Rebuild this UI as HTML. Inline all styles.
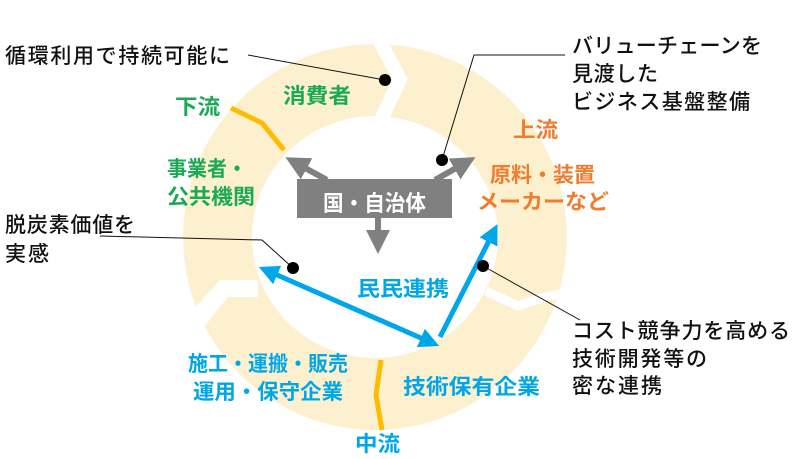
<!DOCTYPE html>
<html><head><meta charset="utf-8"><style>
body{margin:0;background:#fff;width:806px;height:454px;overflow:hidden;font-family:"Liberation Sans","Noto Sans CJK JP",sans-serif;}
svg text{font-family:"Liberation Sans","Noto Sans CJK JP",sans-serif;font-weight:bold;}
svg text.k{font-weight:500;fill:#111;font-size:21px}
</style></head><body>
<svg width="806" height="454" viewBox="0 0 806 454">
<defs>
<marker id="ga" markerWidth="4" markerHeight="4" refX="2" refY="2" orient="auto"><path d="M0,0L4,2L0,4Z" fill="#808080"/></marker>
<marker id="ba" markerWidth="4" markerHeight="4" refX="2" refY="2" orient="auto-start-reverse"><path d="M0,0L4,2L0,4Z" fill="#00a7e8"/></marker>
</defs>
<path fill="#fdf0cf" fill-rule="evenodd" d="M183,237a192,193 0 1,0 384,0a192,193 0 1,0 -384,0Z M252,237a123,121 0 1,0 246,0a123,121 0 1,0 -246,0Z"/>
<polyline points="378,38 400,79 380,122" fill="none" stroke="#fff" stroke-width="14"/>
<polygon points="178,312 193,310 220,280 258,280 258,297 228,297 203,328 178,328" fill="#fff"/>
<polyline points="486,291 518,306 545,297 575,291" fill="none" stroke="#fff" stroke-width="9"/>
<polyline points="231,108 262,123 284,150" fill="none" stroke="#ffbb00" stroke-width="5"/>
<polyline points="381,360 376,395 382,430" fill="none" stroke="#ffbb00" stroke-width="5"/>
<line x1="327" y1="180" x2="296" y2="163" stroke="#808080" stroke-width="6" marker-end="url(#ga)"/>
<line x1="435" y1="180" x2="465" y2="163" stroke="#808080" stroke-width="6" marker-end="url(#ga)"/>
<line x1="378" y1="218" x2="378" y2="242" stroke="#808080" stroke-width="6" marker-end="url(#ga)"/>
<rect x="297" y="179" width="155" height="39" fill="#808080"/>
<text x="323" y="211" textLength="103" lengthAdjust="spacingAndGlyphs" fill="#fff" font-size="22">国・自治体</text>
<line x1="268" y1="271" x2="430" y2="342" stroke="#00a7e8" stroke-width="5" marker-start="url(#ba)" marker-end="url(#ba)"/>
<line x1="440" y1="337" x2="493" y2="233" stroke="#00a7e8" stroke-width="5" marker-end="url(#ba)"/>
<polyline points="248,55 385,80" fill="none" stroke="#111" stroke-width="1"/>
<circle cx="385" cy="80" r="6" fill="#000"/>
<polyline points="565,55 474,55 442,160" fill="none" stroke="#111" stroke-width="1"/>
<circle cx="442" cy="160" r="6" fill="#000"/>
<polyline points="100,236 262,240 293,268" fill="none" stroke="#111" stroke-width="1"/>
<circle cx="293" cy="268" r="6" fill="#000"/>
<polyline points="483,266 580,320" fill="none" stroke="#111" stroke-width="1"/>
<circle cx="483" cy="266" r="6" fill="#000"/>
<g lengthAdjust="spacingAndGlyphs">
<text class="k" x="5" y="63" textLength="225">循環利用で持続可能に</text>
<text class="k" x="572" y="53" textLength="190">バリューチェーンを</text>
<text class="k" x="572" y="81" textLength="86">見渡した</text>
<text class="k" x="572" y="109" textLength="178">ビジネス基盤整備</text>
<text class="k" x="5" y="232" textLength="130">脱炭素価値を</text>
<text class="k" x="5" y="261" textLength="44">実感</text>
<text class="k" x="572" y="338" textLength="218">コスト競争力を高める</text>
<text class="k" x="572" y="366" textLength="135">技術開発等の</text>
<text class="k" x="572" y="393" textLength="90">密な連携</text>
</g>
<g fill="#1aaa55" font-size="21">
<text x="283" y="103" textLength="68" lengthAdjust="spacingAndGlyphs">消費者</text>
<text x="175" y="114" textLength="45" lengthAdjust="spacingAndGlyphs">下流</text>
<text x="167" y="176" textLength="80" lengthAdjust="spacingAndGlyphs">事業者・</text>
<text x="167" y="204" textLength="88" lengthAdjust="spacingAndGlyphs">公共機関</text>
</g>
<g fill="#f07c2e" font-size="21">
<text x="513" y="137" textLength="45" lengthAdjust="spacingAndGlyphs">上流</text>
<text x="490" y="182" textLength="105" lengthAdjust="spacingAndGlyphs">原料・装置</text>
<text x="477" y="209" textLength="132" lengthAdjust="spacingAndGlyphs">メーカーなど</text>
</g>
<g fill="#00a7e8" font-size="21">
<text x="357" y="296" textLength="92" lengthAdjust="spacingAndGlyphs">民民連携</text>
<text x="188" y="371" textLength="160" lengthAdjust="spacingAndGlyphs">施工・運搬・販売</text>
<text x="193" y="399" textLength="150" lengthAdjust="spacingAndGlyphs">運用・保守企業</text>
<text x="403" y="394" textLength="137" lengthAdjust="spacingAndGlyphs">技術保有企業</text>
<text x="355" y="451" textLength="45" lengthAdjust="spacingAndGlyphs">中流</text>
</g>
</svg>
</body></html>
